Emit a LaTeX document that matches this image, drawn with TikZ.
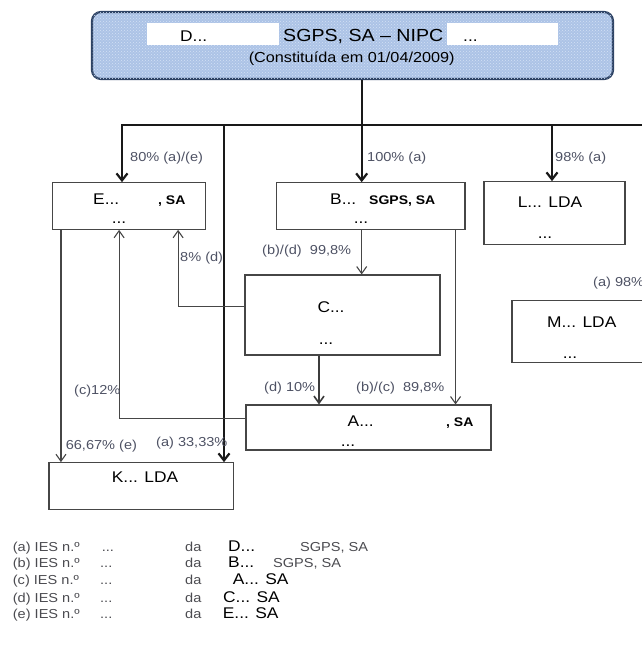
\documentclass[tikz,border=0pt]{standalone}
\usepackage{fontspec}
\setmainfont{Liberation Sans}[FakeStretch=1.12]
\usetikzlibrary{arrows.meta, calc, patterns, positioning}
\definecolor{headcol}{RGB}{172, 195, 230}
\definecolor{headdot}{RGB}{212, 225, 245}
\definecolor{headline}{RGB}{45, 66, 100}
\definecolor{linecol}{RGB}{25, 25, 25}
\definecolor{thincol}{RGB}{70, 70, 70}
\definecolor{pctcol}{RGB}{78, 82, 100}
\definecolor{legcol}{RGB}{75, 75, 80}
\tikzset{
  co/.style     = {draw=thincol, line width=1.1pt, fill=white, inner sep=0pt},
  head/.style   = {draw=headline, line width=2.2pt, rounded corners=9pt,
                   fill=headcol, inner sep=0pt,
                   postaction={pattern=crosshatch dots, pattern color=headdot}},
  mask/.style   = {fill=white, inner sep=0pt},
  ctext/.style  = {font=\fontsize{15.5}{18}\selectfont, inner sep=0pt},
  cform/.style  = {font=\bfseries\fontsize{12.5}{15}\selectfont, inner sep=0pt},
  pct/.style    = {font=\fontsize{13}{15}\selectfont, text=pctcol, inner sep=0pt},
  legtxt/.style = {font=\fontsize{13}{15}\selectfont, text=legcol, inner sep=0pt},
  % direct holdings of the parent are drawn heavy, the others light
  stake/.style  = {-{Straight Barb[length=7pt, width=11pt]}, draw=linecol,
                   line width=2.2pt},
  minor/.style  = {-{Straight Barb[length=7pt, width=10pt]}, draw=thincol,
                   line width=1.1pt},
  midl/.style   = {minor, line width=1.6pt, draw=linecol!85},
}

\begin{document}
\begin{tikzpicture}[x=1pt, y=-1pt]
  \useasboundingbox (0,0) rectangle (642,659);
  \clip (0,0) rectangle (642,659);

  %% ---------------- the parent ----------------
  \node[head, minimum width=521pt, minimum height=67pt] (hold) at (352.5,45.5) {};
  \node[mask, minimum width=131.5pt, minimum height=21.7pt] (maskD) at (213.2,34.2) {};
  \node[mask, minimum width=111pt, minimum height=21.7pt] (maskN) at (502.5,34.2) {};
  \node[ctext, anchor=base west] (holdD) at (180,41.7) {D...};
  \node[ctext, anchor=base west, font=\fontsize{17.5}{20}\selectfont]
       (holdF) at (283,41.7) {SGPS, SA – NIPC};
  \node[ctext, anchor=base west] (holdN) at (463,41.7) {...};
  \node[ctext, anchor=base, font=\fontsize{14.5}{17}\selectfont]
       (holdC) at (351.7,62.3) {(Constituída em 01/04/2009)};

  %% ---------------- the companies ----------------
  \node[co, minimum width=153.2pt, minimum height=46.6pt] (E) at (129.1,206) {};
  \node[co, minimum width=188.4pt, minimum height=46.6pt] (B) at (370.8,206) {};
  \node[co, minimum width=141pt,   minimum height=62.6pt] (L) at (554.5,213) {};
  \node[co, minimum width=195pt,   minimum height=80pt]   (C) at (342.5,315) {};
  \node[co, minimum width=245pt,   minimum height=45pt]   (A) at (368.5,427.5) {};
  \node[co, minimum width=184.6pt, minimum height=46.6pt] (K) at (141.3,486) {};
  \node[co, minimum width=188pt,   minimum height=61.6pt] (M) at (606,331.5) {};

  \node[ctext, anchor=base west] (Ename) at (93,204.5) {E...};
  \node[cform, anchor=base west] (Eform) at (158,204.5) {, SA};
  \node[ctext, anchor=base] (Edots) at (119,223) {...};

  \node[ctext, anchor=base west] (Bname) at (330,204.5) {B...};
  \node[cform, anchor=base west] (Bform) at (369,204.5) {SGPS, SA};
  \node[ctext, anchor=base] (Bdots) at (361,223) {...};

  \node[ctext, anchor=base] (Lname) at (550,207.5) {L... LDA};
  \node[ctext, anchor=base] (Ldots) at (545,238) {...};

  \node[ctext, anchor=base] (Cname) at (331,312.5) {C...};
  \node[ctext, anchor=base] (Cdots) at (326,344) {...};

  \node[ctext, anchor=base west] (Aname) at (347.5,426.5) {A...};
  \node[cform, anchor=base west] (Aform) at (446,426.5) {, SA};
  \node[ctext, anchor=base] (Adots) at (348,446) {...};

  \node[ctext, anchor=base] (Kname) at (145,482.5) {K... LDA};

  \node[ctext, anchor=base west] (Mname) at (547,327.5) {M... LDA};
  \node[ctext, anchor=base] (Mdots) at (570,358) {...};

  %% ---------------- the holdings ----------------
  \coordinate (jn)   at (361.7,125);
  \coordinate (busW) at (122,125);
  \coordinate (busE) at (660,125);
  \coordinate (tapK) at (224,125);
  \coordinate (tapL) at (552,125);

  \draw[stake] (busE) -- (busW) -- (busW |- E.north);
  \draw[stake] (hold.south -| jn) -- (jn |- B.north);
  \draw[stake] (tapL) -- (tapL |- L.north);
  \draw[stake] (tapK) -- (tapK |- K.north);

  \coordinate (dropA) at ([xshift=-10pt]B.south east);
  \coordinate (dropC) at ([xshift=-23.5pt]C.south);
  \coordinate (outC)  at ([yshift=8.3pt]C.west);
  \coordinate (outA)  at ([yshift=9.2pt]A.west);
  \coordinate (inE1)  at ([xshift=49pt]E.south);
  \coordinate (inE2)  at ([xshift=-10pt]E.south);
  \coordinate (outE)  at ([xshift=9pt]E.south west);

  \draw[minor] (B.south -| jn) -- (C.north -| jn);
  \draw[minor] (dropA) -- (dropA |- A.north);
  \draw[midl]  (dropC) -- (dropC |- A.north);
  \draw[minor] (outC) -| (inE1);
  \draw[minor] (outA) -| (inE2);
  \draw[minor] (outE) -- (outE |- K.north);

  \node[pct, anchor=base west] (pE)  at (130,161.7)   {80\% (a)/(e)};
  \node[pct, anchor=base west] (pB)  at (367,161.7)   {100\% (a)};
  \node[pct, anchor=base west] (pL)  at (555,161.7)   {98\% (a)};
  \node[pct, anchor=base west] (pBC) at (262,254.7)   {(b)/(d)\ \ 99,8\%};
  \node[pct, anchor=base west] (pCE) at (180,261.7)   {8\% (d)};
  \node[pct, anchor=base west] (pM)  at (593,286.4)   {(a) 98\%};
  \node[pct, anchor=base west] (pCA) at (264,391.7)   {(d) 10\%};
  \node[pct, anchor=base west] (pBA) at (356,391.7)   {(b)/(c)\ \ 89,8\%};
  \node[pct, anchor=base west] (pAE) at (74,394.7)    {(c)12\%};
  \node[pct, anchor=base west] (pEK) at (65.6,449.7)  {66,67\% (e)};
  \node[pct, anchor=base west] (pDK) at (156,446.4)   {(a) 33,33\%};

  %% ---------------- the notes ----------------
  \foreach \k/\y/\dx in {a/551.4/101.7, b/567.4/100, c/584.7/100,
                         d/602/100, e/618/100} {
    \node[legtxt, anchor=base west] (ies\k)  at (12.7,\y) {(\k) IES n.º};
    \node[legtxt, anchor=base west] (dots\k) at (\dx,\y)  {...};
    \node[legtxt, anchor=base west] (da\k)   at (185,\y)  {da};
  }
  \node[ctext, anchor=base west] (legD)  at (228,551.4)   {D...};
  \node[legtxt, anchor=base west] (legDf) at (300,551.4)  {SGPS, SA};
  \node[ctext, anchor=base west] (legB)  at (228,567.4)   {B...};
  \node[legtxt, anchor=base west] (legBf) at (273,567.4)  {SGPS, SA};
  \node[ctext, anchor=base west] (legA)  at (232.7,584.7) {A... SA};
  \node[ctext, anchor=base west] (legC)  at (223,602)     {C... SA};
  \node[ctext, anchor=base west] (legE)  at (222.7,618)   {E... SA};

\end{tikzpicture}
\end{document}
